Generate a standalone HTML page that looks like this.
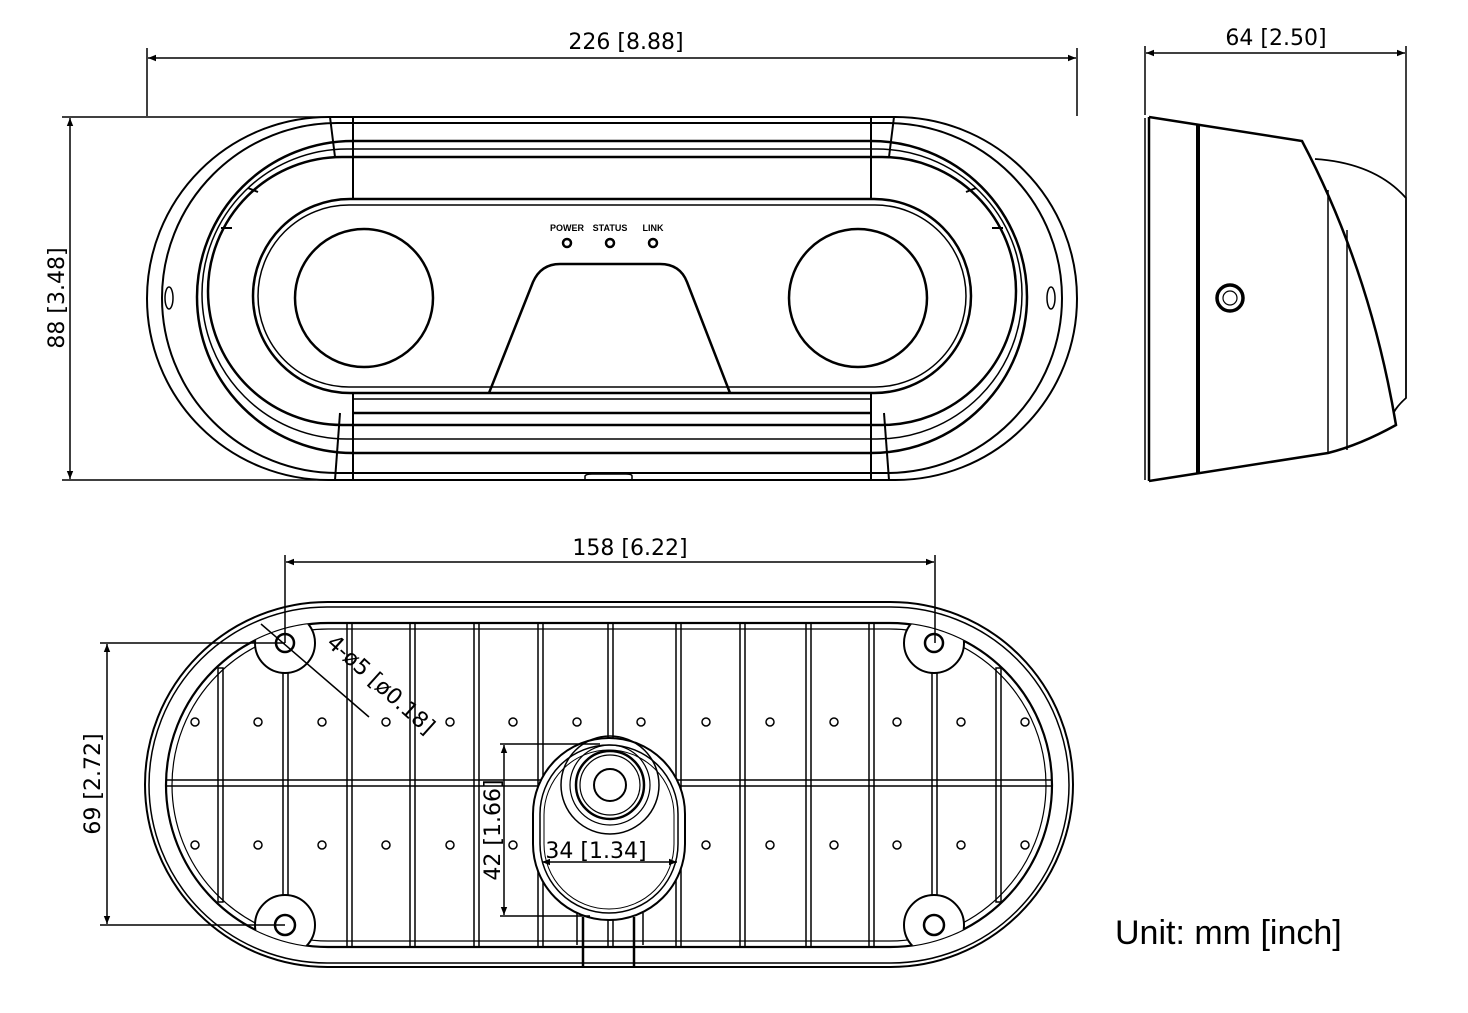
<!DOCTYPE html>
<html><head><meta charset="utf-8"><style>
html,body{margin:0;padding:0;background:#fff}
svg{display:block}
.d{font-family:"DejaVu Sans","Liberation Sans",sans-serif;font-size:22px;fill:#000;font-weight:normal}
</style></head><body>
<svg width="1468" height="1013" viewBox="0 0 1468 1013" xmlns="http://www.w3.org/2000/svg">
<defs>
<marker id="ar" viewBox="0 0 10 10" refX="10" refY="5" markerWidth="14" markerHeight="8" orient="auto-start-reverse" markerUnits="userSpaceOnUse"><path d="M0,1 L10,5 L0,9 z" fill="#000"/></marker>
<clipPath id="ribclip"><rect x="166" y="623" width="886" height="324" rx="162" ry="162"/></clipPath>
</defs>
<g fill="none" stroke="#000" stroke-width="2">
<!-- ============ FRONT VIEW ============ -->
<rect x="147" y="117" width="930" height="363" rx="181.5"/>
<rect x="162" y="123" width="900" height="350" rx="175"/>
<rect x="197" y="141" width="830" height="312" rx="156" stroke-width="2.5"/>
<rect x="202" y="149" width="820" height="290" rx="145" stroke-width="1.5"/>
<rect x="208" y="157" width="808" height="268" rx="134" stroke-width="2.5"/>
<rect x="253" y="199" width="718" height="194" rx="97" stroke-width="2.5"/>
<rect x="258" y="205" width="708" height="182" rx="91" stroke-width="1.5"/>
<line x1="330" y1="117" x2="335" y2="157"/><line x1="353" y1="117" x2="353" y2="199"/>
<line x1="894" y1="117" x2="889" y2="157"/><line x1="871" y1="117" x2="871" y2="199"/>
<line x1="340" y1="413" x2="335" y2="480"/><line x1="353" y1="393" x2="353" y2="480"/>
<line x1="884" y1="413" x2="889" y2="480"/><line x1="871" y1="393" x2="871" y2="480"/>
<line x1="353" y1="399" x2="871" y2="399" stroke-width="1.5"/>
<line x1="353" y1="413" x2="871" y2="413" stroke-width="2.5"/>
<line x1="248" y1="188" x2="258" y2="192"/><line x1="221" y1="228" x2="232" y2="228"/>
<line x1="976" y1="188" x2="966" y2="192"/><line x1="1003" y1="228" x2="992" y2="228"/>
<ellipse cx="169" cy="298" rx="4" ry="11" stroke-width="1.5"/>
<ellipse cx="1051" cy="298" rx="4" ry="11" stroke-width="1.5"/>
<circle cx="364" cy="298" r="69" stroke-width="2.5"/>
<circle cx="858" cy="298" r="69" stroke-width="2.5"/>
<path d="M489,393 L533,282 Q541,264 560,264 L660,264 Q680,264 687,282 L730,393" stroke-width="2.5"/>
<circle cx="567" cy="243" r="4" stroke-width="2.5"/><circle cx="610" cy="243" r="4" stroke-width="2.5"/><circle cx="653" cy="243" r="4" stroke-width="2.5"/>
<path d="M585,480 L585,476 Q586,474 592,474 L626,474 Q632,474 632,476 L632,480" stroke-width="1.5"/>
<!-- front dims -->
<line x1="147" y1="48" x2="147" y2="116" stroke-width="1.5"/><line x1="1077" y1="48" x2="1077" y2="116" stroke-width="1.5"/>
<line x1="148" y1="58" x2="1076" y2="58" stroke-width="1.5" marker-start="url(#ar)" marker-end="url(#ar)"/>
<line x1="62" y1="117" x2="330" y2="117" stroke-width="1.5"/><line x1="62" y1="480" x2="330" y2="480" stroke-width="1.5"/>
<line x1="70" y1="118" x2="70" y2="479" stroke-width="1.5" marker-start="url(#ar)" marker-end="url(#ar)"/>
<!-- ============ SIDE VIEW ============ -->
<line x1="1145" y1="118" x2="1145" y2="480" stroke-width="1.5"/>
<line x1="1149" y1="117" x2="1149" y2="481" stroke-width="2.5"/>
<path d="M1149,117 L1302,141 Q1370,270 1396,425 Q1360,445 1328,453 L1149,481" stroke-width="2.5"/>
<line x1="1198" y1="124" x2="1198" y2="474" stroke-width="4"/>
<path d="M1315,159 Q1375,163 1406,198 L1406,398 Q1398,405 1394,412" stroke-width="1.8"/>
<line x1="1328" y1="190" x2="1328" y2="453" stroke-width="1.5"/>
<line x1="1347" y1="230" x2="1347" y2="450" stroke-width="1.5"/>
<circle cx="1230" cy="298" r="13" stroke-width="3.5"/><circle cx="1230" cy="298" r="7" stroke-width="1.2"/>
<line x1="1145" y1="46" x2="1145" y2="115" stroke-width="1.5"/><line x1="1406" y1="46" x2="1406" y2="198" stroke-width="1.5"/>
<line x1="1146" y1="53" x2="1405" y2="53" stroke-width="1.5" marker-start="url(#ar)" marker-end="url(#ar)"/>
<!-- ============ BOTTOM VIEW ============ -->
<rect x="145" y="602" width="928" height="365" rx="182.5"/>
<rect x="149" y="607" width="920" height="356" rx="178" stroke-width="1.5"/>
<rect x="166" y="623" width="886" height="324" rx="162" stroke-width="2.2"/>
<rect x="172" y="629" width="874" height="312" rx="156" stroke-width="1.2"/>
<g clip-path="url(#ribclip)" stroke-width="1.5">
<rect x="150" y="780" width="920" height="6"/>
<rect x="218" y="668" width="5" height="234"/><rect x="283" y="623" width="5" height="324"/>
<rect x="347" y="623" width="5" height="324"/><rect x="410" y="623" width="5" height="324"/>
<rect x="474" y="623" width="5" height="324"/><rect x="538" y="623" width="5" height="324"/>
<rect x="608" y="623" width="5" height="324"/><rect x="676" y="623" width="5" height="324"/>
<rect x="740" y="623" width="5" height="324"/><rect x="806" y="623" width="5" height="324"/>
<rect x="869" y="623" width="5" height="324"/><rect x="932" y="623" width="5" height="324"/>
<rect x="996" y="668" width="5" height="234"/>
</g>
<!-- bosses -->
<g fill="#fff" stroke-width="2">
<g clip-path="url(#ribclip)">
<circle cx="285" cy="643" r="30"/><circle cx="934" cy="643" r="30"/>
<circle cx="285" cy="925" r="30"/><circle cx="934" cy="925" r="30"/>
</g>
<rect x="533" y="738" width="152" height="182" rx="76"/>
</g>
<rect x="540" y="745" width="138" height="168" rx="69" stroke-width="1.5"/>
<rect x="544" y="750" width="130" height="159" rx="65" stroke-width="1"/>
<circle cx="285" cy="643" r="9" stroke-width="2.5"/><circle cx="934" cy="643" r="9" stroke-width="2.5"/>
<circle cx="285" cy="925" r="10" stroke-width="2.5"/><circle cx="934" cy="925" r="10" stroke-width="2.5"/>
<circle cx="610" cy="785" r="49" stroke-width="1.5"/>
<circle cx="610" cy="785" r="40" stroke-width="1.2"/>
<circle cx="610" cy="785" r="34" stroke-width="2.5"/>
<circle cx="610" cy="785" r="30" stroke-width="1.2"/>
<circle cx="610" cy="785" r="16" stroke-width="2"/>
<g stroke-width="1.5"><line x1="577" y1="913" x2="577" y2="945"/><line x1="583" y1="917" x2="583" y2="967" stroke-width="2.5"/><line x1="634" y1="917" x2="634" y2="967" stroke-width="2.5"/><line x1="643" y1="913" x2="643" y2="945"/></g>
<g stroke-width="1.5">
<circle cx="195" cy="722" r="4"/><circle cx="258" cy="722" r="4"/><circle cx="322" cy="722" r="4"/><circle cx="386" cy="722" r="4"/><circle cx="450" cy="722" r="4"/><circle cx="513" cy="722" r="4"/><circle cx="577" cy="722" r="4"/><circle cx="641" cy="722" r="4"/><circle cx="706" cy="722" r="4"/><circle cx="770" cy="722" r="4"/><circle cx="834" cy="722" r="4"/><circle cx="897" cy="722" r="4"/><circle cx="961" cy="722" r="4"/><circle cx="1025" cy="722" r="4"/>
<circle cx="195" cy="845" r="4"/><circle cx="258" cy="845" r="4"/><circle cx="322" cy="845" r="4"/><circle cx="386" cy="845" r="4"/><circle cx="450" cy="845" r="4"/><circle cx="513" cy="845" r="4"/><circle cx="706" cy="845" r="4"/><circle cx="770" cy="845" r="4"/><circle cx="834" cy="845" r="4"/><circle cx="897" cy="845" r="4"/><circle cx="961" cy="845" r="4"/><circle cx="1025" cy="845" r="4"/>
</g>
<!-- bottom dims -->
<line x1="285" y1="555" x2="285" y2="643" stroke-width="1.5"/><line x1="935" y1="555" x2="935" y2="643" stroke-width="1.5"/>
<line x1="286" y1="562" x2="934" y2="562" stroke-width="1.5" marker-start="url(#ar)" marker-end="url(#ar)"/>
<line x1="100" y1="643" x2="285" y2="643" stroke-width="1.5"/><line x1="100" y1="925" x2="285" y2="925" stroke-width="1.5"/>
<line x1="107" y1="644" x2="107" y2="924" stroke-width="1.5" marker-start="url(#ar)" marker-end="url(#ar)"/>
<line x1="500" y1="744" x2="600" y2="744" stroke-width="1.5"/><line x1="500" y1="916" x2="590" y2="916" stroke-width="1.5"/>
<line x1="504" y1="745" x2="504" y2="915" stroke-width="1.5" marker-start="url(#ar)" marker-end="url(#ar)"/>
<line x1="542" y1="862" x2="677" y2="862" stroke-width="1.5" marker-start="url(#ar)" marker-end="url(#ar)"/>
<line x1="261" y1="624" x2="369" y2="717" stroke-width="1.5"/>
</g>
<!-- texts -->
<text class="d" x="626" y="49" text-anchor="middle">226 [8.88]</text>
<text class="d" x="0" y="0" text-anchor="middle" transform="translate(64,298) rotate(-90)">88 [3.48]</text>
<text class="d" x="1276" y="45" text-anchor="middle">64 [2.50]</text>
<text class="d" x="630" y="555" text-anchor="middle">158 [6.22]</text>
<text class="d" x="0" y="0" text-anchor="middle" transform="translate(100,784) rotate(-90)">69 [2.72]</text>
<text class="d" x="0" y="0" text-anchor="middle" transform="translate(500,830) rotate(-90)">42 [1.66]</text>
<text class="d" x="596" y="858" text-anchor="middle">34 [1.34]</text>
<text class="d" x="0" y="0" text-anchor="middle" transform="translate(376,690) rotate(42)">4-ø5 [ø0.18]</text>
<g font-family="Liberation Sans,sans-serif" font-size="9" font-weight="bold" text-anchor="middle">
<text x="567" y="231">POWER</text><text x="610" y="231">STATUS</text><text x="653" y="231">LINK</text>
</g>
<text x="1115" y="944" font-family="Liberation Sans,sans-serif" font-size="34">Unit: mm [inch]</text>
</svg>
</body></html>
